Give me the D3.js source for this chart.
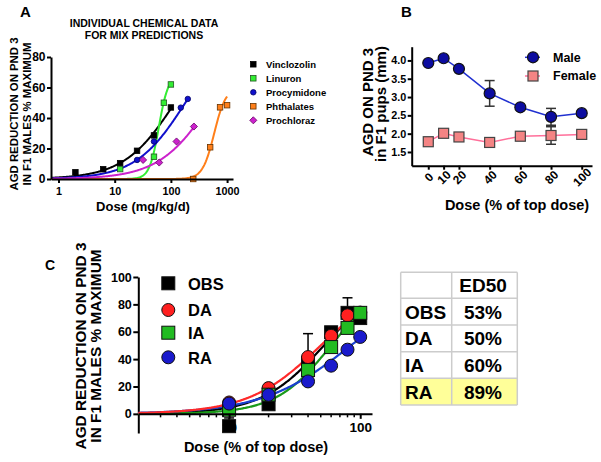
<!DOCTYPE html>
<html><head><meta charset="utf-8">
<script src="https://cdn.jsdelivr.net/npm/d3@7"></script>
<style>
body{margin:0;background:#fff}
text{font-family:"Liberation Sans",Arial,sans-serif;font-weight:bold;fill:#000}
</style>
</head><body>
<svg id="chart" width="601" height="462"></svg>
<script>
// ---------- Panel A data ----------
const chemNames = ["Vinclozolin","Linuron","Procymidone","Phthalates","Prochloraz"];
const vinDose = [2, 6.25, 12.5, 25, 50, 100];
const vinResp = [4.4, 6.4, 10.4, 18.5, 28.6, 46.9];
const linDose = [12.5, 50, 75, 100];
const linResp = [6.5, 14.6, 50, 62];
const proDose = [25, 50, 150, 200];
const proResp = [12.5, 24.6, 46.8, 52.5];
const phtDose = [250, 500, 750, 1000];
const phtResp = [0, 20.8, 47, 48.4];
const pchDose = [32, 62, 126, 257];
const pchResp = [12.5, 10.8, 24.6, 34.4];
// fitted dose-response parameters (top, ED50, Hill slope, last dose)
const chemFitTop   = [100, 68, 100, 60, 100];
const chemFitED50  = [118, 61, 181, 590, 525];
const chemFitSlope = [0.955, 5.2, 0.98, 4.2, 0.93];
const chemFitMax   = [100, 100, 200, 1000, 257];
const aXTicks = [1, 10, 100, 1000];
const aYTicks = [0, 20, 40, 60, 80];

// ---------- Panel B data ----------
const bDose = [0, 10, 20, 40, 60, 80, 100];
const maleAGD = [3.93, 4.06, 3.77, 3.10, 2.72, 2.46, 2.56];
const maleErr = [0.04, 0.04, 0.04, 0.35, 0.03, 0.23, 0.03];
const femaleAGD = [1.78, 2.01, 1.91, 1.76, 1.93, 1.95, 1.98];
const femaleErr = [0.03, 0.03, 0.03, 0.03, 0.03, 0.24, 0.03];
const bYTicks = [1.5, 2.0, 2.5, 3.0, 3.5, 4.0];

// ---------- Panel C data ----------
const cDose = [10, 20, 40, 60, 80, 100];
const obsResp = [-9, 7, 37, 59.6, 73.8, 70];
const obsErr  = [6, 3, 21.6, 3, 11, 8];
const daResp  = [8.3, 18.8, 41.5, 57, 72, 74];
const iaResp  = [3, 14, 32, 48.8, 62.8, 73.8];
const raResp  = [7.5, 13.9, 23.7, 35.2, 46.9, 56.2];
const mixNames = ["OBS", "DA", "IA", "RA"];
const mixFitED50  = [53, 50, 60, 85];
const mixFitSlope = [1.81, 1.58, 2.05, 1.3];
const ed50Labels = ["53%", "50%", "60%", "89%"];
const cYTicks = [0, 20, 40, 60, 80, 100];
const cXTicks = [10, 100];
const cMinor = [3,4,5,6,7,8,9,20,30,40,50,60,70,80,90];

const svg = d3.select("#chart");
const hill = (x, top, e, n) => top / (1 + Math.pow(e / x, n));
function curvePts(lo, hi, top, e, n) {
  return d3.range(0, 241).map(i => {
    const x = lo * Math.pow(hi / lo, i / 240);
    return [x, hill(x, top, e, n)];
  });
}
function styleAxis(g, fs) {
  g.selectAll("path.domain").attr("stroke", "#000").attr("stroke-width", 2);
  g.selectAll(".tick line").attr("stroke", "#000").attr("stroke-width", 2);
  g.selectAll(".tick text").style("font-size", fs + "px").style("font-weight", "bold")
    .style("font-family", '"Liberation Sans",Arial,sans-serif').attr("fill", "#000");
}

// ================= PANEL A =================
const xA = d3.scaleLog().domain([0.736, 1274]).range([51, 233]);
const yA = d3.scaleLinear().domain([0, 80]).range([179, 57]);
const gA = svg.append("g");
gA.append("text").attr("x", 20).attr("y", 17).style("font-size", "15px").text("A");
gA.append("text").attr("x", 144).attr("y", 27).attr("text-anchor", "middle").style("font-size", "10.5px").text("INDIVIDUAL CHEMICAL DATA");
gA.append("text").attr("x", 144).attr("y", 38.5).attr("text-anchor", "middle").style("font-size", "10.5px").text("FOR MIX PREDICTIONS");

const aColors = ["#000000", "#33ee33", "#1010cc", "#ff7f1a", "#cc22cc"];
const aDose = [vinDose, linDose, proDose, phtDose, pchDose];
const aResp = [vinResp, linResp, proResp, phtResp, pchResp];
const aShapes = ["square", "square", "circle", "square", "diamond"];

const lineA = d3.line().x(d => xA(d[0])).y(d => yA(d[1]));
chemNames.forEach((nm, i) => {
  gA.append("path").attr("d", lineA(curvePts(0.736, chemFitMax[i], chemFitTop[i], chemFitED50[i], chemFitSlope[i])))
    .attr("fill", "none").attr("stroke", aColors[i]).attr("stroke-width", 2);
});
function marker(g, shape, cx, cy, size, fill, stroke, sw) {
  if (shape === "square") {
    g.append("rect").attr("x", cx - size / 2).attr("y", cy - size / 2).attr("width", size).attr("height", size)
      .attr("fill", fill).attr("stroke", stroke).attr("stroke-width", sw);
  } else if (shape === "circle") {
    g.append("circle").attr("cx", cx).attr("cy", cy).attr("r", size / 2)
      .attr("fill", fill).attr("stroke", stroke).attr("stroke-width", sw);
  } else {
    const h = size / 2 + 0.8;
    g.append("path").attr("d", `M${cx},${cy - h}L${cx + h},${cy}L${cx},${cy + h}L${cx - h},${cy}Z`)
      .attr("fill", fill).attr("stroke", stroke).attr("stroke-width", sw);
  }
}
const aStroke = ["#000", "#225522", "#000066", "#663300", "#660066"];
chemNames.forEach((nm, i) => {
  aDose[i].forEach((d, j) => marker(gA, aShapes[i], xA(d), yA(aResp[i][j]), 5.5, aColors[i], aStroke[i], 0.8));
});
const axA = gA.append("g").attr("transform", "translate(0,179)")
  .call(d3.axisBottom(xA).tickValues(aXTicks).tickFormat(d3.format("d")).tickSize(4).tickPadding(4).tickSizeOuter(0));
styleAxis(axA, 10.8);
const ayA = gA.append("g").attr("transform", "translate(51,0)")
  .call(d3.axisLeft(yA).tickValues(aYTicks).tickSize(4).tickPadding(1.5).tickSizeOuter(0));
styleAxis(ayA, 12);
gA.append("text").attr("transform", "translate(18,114) rotate(-90)").attr("text-anchor", "middle").style("font-size", "11.4px").text("AGD REDUCTION ON PND 3");
gA.append("text").attr("transform", "translate(31,114) rotate(-90)").attr("text-anchor", "middle").style("font-size", "11.4px").text("IN F1 MALES % MAXIMUM");
gA.append("text").attr("x", 143).attr("y", 211).attr("text-anchor", "middle").style("font-size", "13px").text("Dose (mg/kg/d)");
// legend A
chemNames.forEach((nm, i) => {
  const y = 64.3 + i * 14;
  marker(gA, aShapes[i], 253.3, y, 5.5, aColors[i], aStroke[i], 0.8);
  gA.append("text").attr("x", 266).attr("y", y + 3.3).style("font-size", "9.5px").text(nm);
});

// ================= PANEL B =================
const xB = d3.scaleLinear().domain([-10.8, 106.7]).range([411.7, 592]);
const yB = d3.scaleLinear().domain([1.125, 4.375]).range([165.7, 46.7]);
const gB = svg.append("g");
gB.append("text").attr("x", 401).attr("y", 17).style("font-size", "15px").text("B");
const lineB = d3.line().x((d, i) => xB(bDose[i])).y(d => yB(d));
function errB(vals, errs) {
  vals.forEach((v, i) => {
    const x = xB(bDose[i]);
    gB.append("line").attr("x1", x).attr("x2", x).attr("y1", yB(v - errs[i])).attr("y2", yB(v + errs[i])).attr("stroke", "#333").attr("stroke-width", 1.5);
    [v - errs[i], v + errs[i]].forEach(e => gB.append("line").attr("x1", x - 5).attr("x2", x + 5).attr("y1", yB(e)).attr("y2", yB(e)).attr("stroke", "#333").attr("stroke-width", 1.5));
  });
}
errB(femaleAGD, femaleErr);
errB(maleAGD, maleErr);
gB.append("path").attr("d", lineB(femaleAGD)).attr("fill", "none").attr("stroke", "#ff6f9a").attr("stroke-width", 1.5);
gB.append("path").attr("d", lineB(maleAGD)).attr("fill", "none").attr("stroke", "#2030d0").attr("stroke-width", 1.5);
femaleAGD.forEach((v, i) => marker(gB, "square", xB(bDose[i]), yB(v), 10, "#f48484", "#444", 1.2));
maleAGD.forEach((v, i) => marker(gB, "circle", xB(bDose[i]), yB(v), 11, "#0c0ca0", "#111", 1.2));
const axB = gB.append("g").attr("transform", "translate(0,165.7)")
  .call(d3.axisBottom(xB).tickValues(bDose).tickSize(4).tickSizeOuter(0));
styleAxis(axB, 12);
axB.selectAll(".tick text").attr("transform", "translate(0,11.5) rotate(-45)").attr("y", 0).attr("dy", "0.35em").attr("text-anchor", "middle");
const ayB = gB.append("g").attr("transform", "translate(411.7,0)")
  .call(d3.axisLeft(yB).tickValues(bYTicks).tickFormat(d3.format(".1f")).tickSize(4).tickPadding(1.5).tickSizeOuter(0));
styleAxis(ayB, 10.8);
gB.append("text").attr("transform", "translate(373,102) rotate(-90)").attr("text-anchor", "middle").style("font-size", "15px").text("AGD ON PND 3");
gB.append("text").attr("transform", "translate(386,104) rotate(-90)").attr("text-anchor", "middle").style("font-size", "15px").text("in F1 pups (mm)");
gB.append("text").attr("x", 517).attr("y", 210).attr("text-anchor", "middle").style("font-size", "14.5px").text("Dose (% of top dose)");
// legend B
gB.append("line").attr("x1", 525).attr("x2", 540).attr("y1", 57.3).attr("y2", 57.3).attr("stroke", "#2030d0").attr("stroke-width", 1.5);
marker(gB, "circle", 533, 57.3, 11, "#0c0ca0", "#111", 1.2);
gB.append("text").attr("x", 553).attr("y", 61.7).style("font-size", "12.5px").text("Male");
gB.append("line").attr("x1", 525).attr("x2", 540).attr("y1", 76).attr("y2", 76).attr("stroke", "#ff6f9a").attr("stroke-width", 1.5);
marker(gB, "square", 533, 76, 10, "#f48484", "#444", 1.2);
gB.append("text").attr("x", 553).attr("y", 80.3).style("font-size", "12.5px").text("Female");

// ================= PANEL C =================
const xC = d3.scaleLog().domain([2.03, 123]).range([138.3, 372]);
const yC = d3.scaleLinear().domain([-14, 100]).range([433, 277]);
const gC = svg.append("g");
gC.append("text").attr("x", 45).attr("y", 269.5).style("font-size", "14px").text("C");
const ayC = gC.append("g").attr("transform", "translate(138.3,0)")
  .call(d3.axisLeft(yC).tickValues(cYTicks).tickSize(5).tickPadding(1.5).tickSizeOuter(0));
styleAxis(ayC, 12.5);
const cColors = ["#000000", "#ff2020", "#22bb22", "#1a1acc"];
const cLine = ["#000000", "#ff2a2a", "#1a9a1a", "#1a40d0"];
const cResp = [obsResp, daResp, iaResp, raResp];
const cShapes = ["square", "circle", "square", "circle"];
const lineC = d3.line().x(d => xC(d[0])).y(d => yC(d[1]));
[0, 2, 3, 1].forEach(i => {
  gC.append("path").attr("d", lineC(curvePts(2.03, 100, 100, mixFitED50[i], mixFitSlope[i])))
    .attr("fill", "none").attr("stroke", cLine[i]).attr("stroke-width", 2.2);
});
obsResp.forEach((v, j) => {
  const x = xC(cDose[j]);
  gC.append("line").attr("x1", x).attr("x2", x).attr("y1", yC(v)).attr("y2", yC(v + obsErr[j])).attr("stroke", "#000").attr("stroke-width", 1.5);
  gC.append("line").attr("x1", x - 5).attr("x2", x + 5).attr("y1", yC(v + obsErr[j])).attr("y2", yC(v + obsErr[j])).attr("stroke", "#000").attr("stroke-width", 1.5);
});
[0, 1, 2, 3].forEach(i => {
  cDose.forEach((d, j) => marker(gC, cShapes[i], xC(d), yC(cResp[i][j]), 13, cColors[i], "#111", 1));
});
const axC = gC.append("g").attr("transform", `translate(0,${yC(0)})`)
  .call(d3.axisBottom(xC).tickValues(cXTicks).tickFormat(d3.format("d")).tickSize(5).tickPadding(4).tickSizeOuter(0));
styleAxis(axC, 13.5);
axC.select("path.domain").lower();
cMinor.forEach(m => gC.append("line").attr("x1", xC(m)).attr("x2", xC(m)).attr("y1", yC(0)).attr("y2", yC(0) + 3.5).attr("stroke", "#000").attr("stroke-width", 1.5));
gC.append("text").attr("transform", "translate(86,346) rotate(-90)").attr("text-anchor", "middle").style("font-size", "15.4px").text("AGD REDUCTION ON PND 3");
gC.append("text").attr("transform", "translate(101,346) rotate(-90)").attr("text-anchor", "middle").style("font-size", "15.4px").text("IN F1 MALES % MAXIMUM");
gC.append("text").attr("x", 256).attr("y", 452).attr("text-anchor", "middle").style("font-size", "14.5px").text("Dose (% of top dose)");
const cLegY = [283.3, 310, 332.7, 357.3];
mixNames.forEach((nm, i) => {
  marker(gC, cShapes[i], 168.3, cLegY[i], 13, cColors[i], "#111", 1);
  gC.append("text").attr("x", 188).attr("y", cLegY[i] + 6.3).style("font-size", "16.5px").text(nm);
});

// ED50 table
const tX = [400.7, 451.7, 517.3];
const tY = [272.3, 298.3, 325, 351.7, 378.3, 405];
const gT = svg.append("g");
gT.append("rect").attr("x", tX[0]).attr("y", tY[4]).attr("width", tX[2] - tX[0]).attr("height", tY[5] - tY[4]).attr("fill", "#ffff99");
tY.forEach(y => gT.append("line").attr("x1", tX[0]).attr("x2", tX[2]).attr("y1", y).attr("y2", y).attr("stroke", "#cccccc").attr("stroke-width", 1.5));
tX.forEach(x => gT.append("line").attr("x1", x).attr("x2", x).attr("y1", tY[0]).attr("y2", tY[5]).attr("stroke", "#cccccc").attr("stroke-width", 1.5));
gT.append("text").attr("x", 483).attr("y", (tY[0] + tY[1]) / 2 + 7).attr("text-anchor", "middle").style("font-size", "19px").text("ED50");
mixNames.forEach((nm, i) => {
  const cy = (tY[i + 1] + tY[i + 2]) / 2 + 7;
  gT.append("text").attr("x", 405).attr("y", cy).style("font-size", "19px").text(nm);
  gT.append("text").attr("x", 483).attr("y", cy).attr("text-anchor", "middle").style("font-size", "19px").text(ed50Labels[i]);
});
</script>
</body></html>
